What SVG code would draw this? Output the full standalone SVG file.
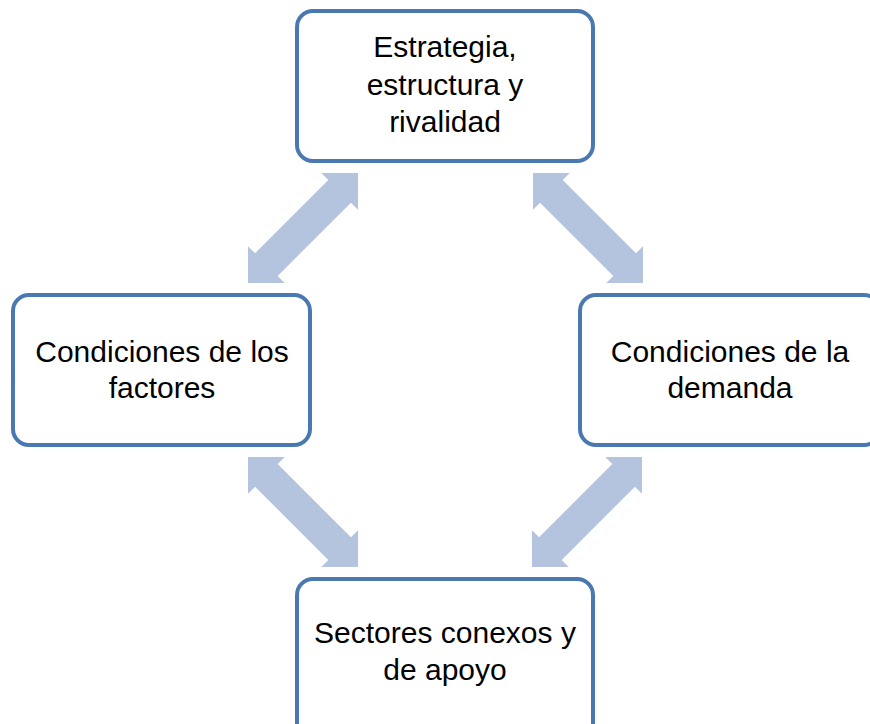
<svg xmlns="http://www.w3.org/2000/svg" xmlns:xlink="http://www.w3.org/1999/xlink" width="870" height="724" viewBox="0 0 870 724">
<style>
.box{fill:#ffffff;stroke:#4A78B0;stroke-width:4}
.lbl{font-family:"Liberation Sans",Arial,sans-serif;font-size:30px;fill:#000000;text-anchor:middle}
.arr{fill:#B4C4DE}
</style>
<defs>
<polygon id="dblarrow" class="arr" points="0,0 26,-26 26,-16 129.6,-16 129.6,-26 155.6,0 129.6,26 129.6,16 26,16 26,26"/>
</defs>
<rect width="870" height="724" fill="#ffffff"/>
<g id="connectors">
<use xlink:href="#dblarrow" transform="translate(358,173) rotate(135)"/>
<use xlink:href="#dblarrow" transform="translate(533,173) rotate(45)"/>
<use xlink:href="#dblarrow" transform="translate(248,457) rotate(45)"/>
<use xlink:href="#dblarrow" transform="translate(642,457) rotate(135)"/>
</g>
<g id="node-estrategia">
<rect class="box" x="297" y="11" width="296" height="150" rx="16"/>
<text class="lbl" x="445" y="57">Estrategia,</text>
<text class="lbl" x="445" y="95">estructura y</text>
<text class="lbl" x="445" y="132">rivalidad</text>
</g>
<g id="node-factores">
<rect class="box" x="13" y="295" width="297" height="150" rx="16"/>
<text class="lbl" x="162" y="362">Condiciones de los</text>
<text class="lbl" x="162" y="398">factores</text>
</g>
<g id="node-demanda">
<rect class="box" x="580" y="295" width="300" height="150" rx="16"/>
<text class="lbl" x="730" y="362">Condiciones de la</text>
<text class="lbl" x="730" y="398">demanda</text>
</g>
<g id="node-sectores">
<rect class="box" x="297" y="579" width="296" height="160" rx="16"/>
<text class="lbl" x="445" y="643">Sectores conexos y</text>
<text class="lbl" x="445" y="680">de apoyo</text>
</g>
</svg>
